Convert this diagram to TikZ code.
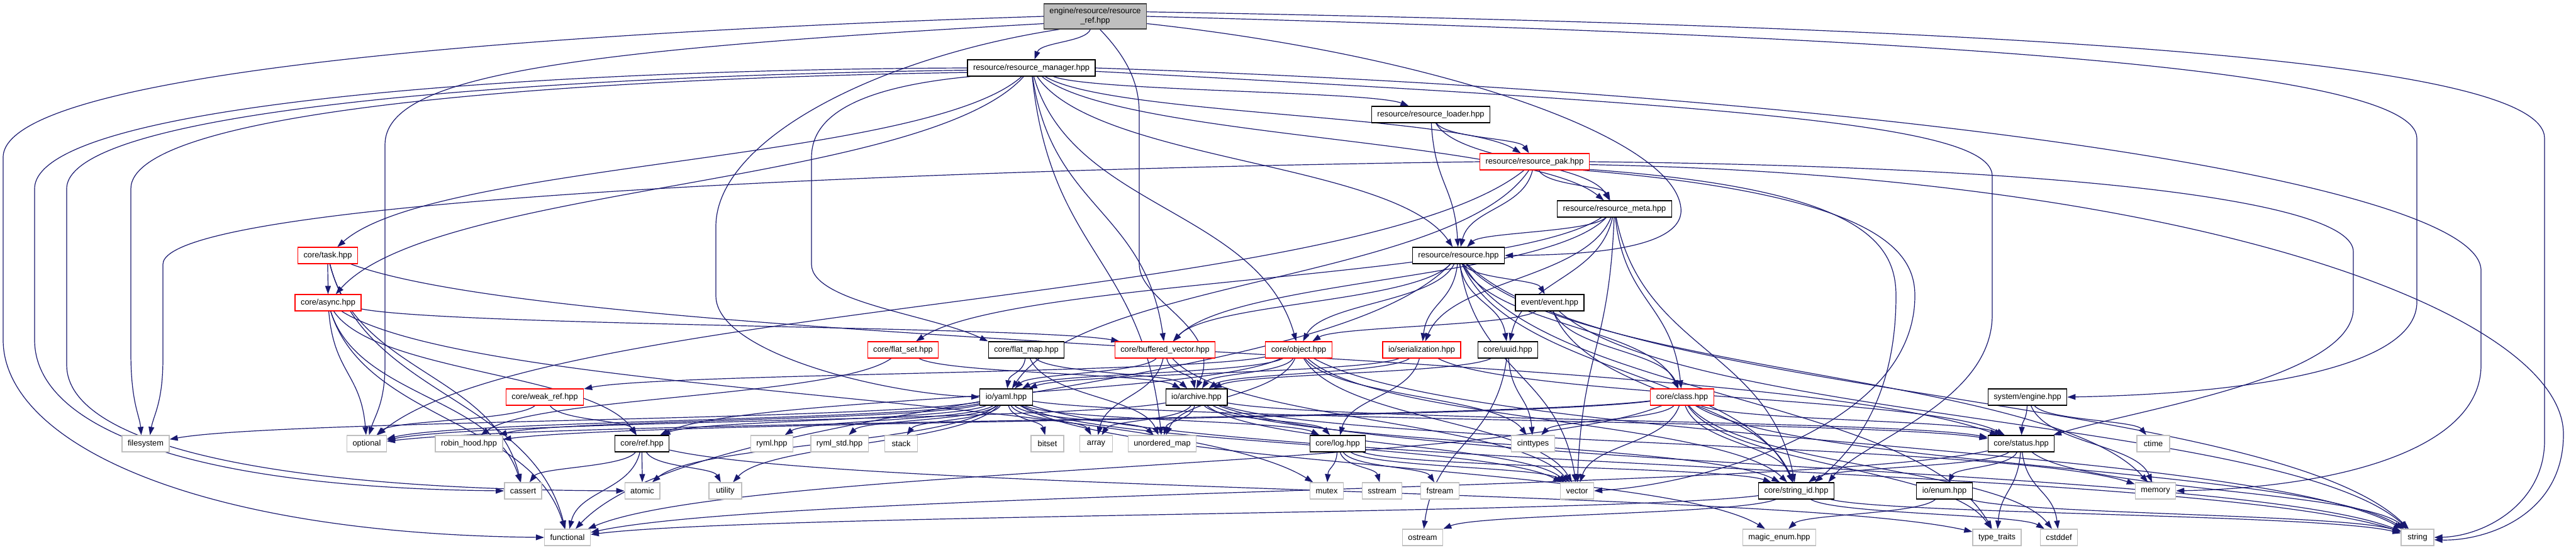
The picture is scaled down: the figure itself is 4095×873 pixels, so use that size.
\documentclass[tikz,border=0pt]{standalone}
\usepackage{fontspec}
\setmainfont{Liberation Sans}
\usetikzlibrary{arrows.meta,calc}
\pgfdeclarelayer{bg}\pgfdeclarelayer{edges}
\pgfsetlayers{bg,edges,main}
\definecolor{edgec}{HTML}{191970}
\definecolor{grayb}{HTML}{BFBFBF}
\definecolor{redb}{HTML}{FF0000}
\definecolor{topb}{HTML}{404040}
\tikzset{
 base/.style={rectangle, minimum height=26pt, minimum width=52pt, inner xsep=9pt, inner ysep=0pt,
   font=\fontsize{12.8}{15.3}\selectfont, line width=1.3pt, fill=white},
 nb/.style={base, draw=black},
 nr/.style={base, draw=redb},
 ng/.style={base, draw=grayb},
 ntop/.style={base, draw=topb, fill=grayb, align=center, minimum height=40pt},
 edge/.style={draw=edgec, line width=1.2pt, -{Triangle[length=13pt,width=9pt]}},
}
\newcommand\edg[2]{%
  \path ($(#1)!.15!(#2)$) coordinate (ea) ($(#1)!.5!(#2)$) coordinate (em) ($(#1)!.85!(#2)$) coordinate (eb);
  \draw[edge] (#1) .. controls (ea |- em) and (eb |- em) .. (#2);}
\newcommand\edgs[2]{\foreach \tg in {#2}{\edg{#1}{\tg}}}
\begin{document}
\begin{tikzpicture}[x=1pt,y=1pt]
\begin{pgfonlayer}{bg}
\fill[white] (0,0) rectangle (4095,-873);
\end{pgfonlayer}
\useasboundingbox (0,0) rectangle (4095,-873);
% nodes
\node[ntop] (ref) at (1741,-26) {engine/resource/resource\\\_ref.hpp};
\node[nb] (mgr) at (1639.5,-108) {resource/resource\_manager.hpp};
\node[nb] (loader) at (2274.5,-182) {resource/resource\_loader.hpp};
\node[nr] (pak) at (2439.5,-257) {resource/resource\_pak.hpp};
\node[nb] (meta) at (2566.5,-332) {resource/resource\_meta.hpp};
\node[nr] (task) at (521,-406) {core/task.hpp};
\node[nb] (res) at (2318.5,-406) {resource/resource.hpp};
\node[nr] (async) at (521.5,-481) {core/async.hpp};
\node[nb] (event) at (2463.5,-481) {event/event.hpp};
\node[nr] (fset) at (1435.5,-556) {core/flat\_set.hpp};
\node[nb] (fmap) at (1631.5,-556) {core/flat\_map.hpp};
\node[nr] (bvec) at (1852,-556) {core/buffered\_vector.hpp};
\node[nr] (obj) at (2064.5,-556) {core/object.hpp};
\node[nr] (ser) at (2260,-556) {io/serialization.hpp};
\node[nb] (uuid) at (2397,-556) {core/uuid.hpp};
\node[nr] (wref) at (866,-631) {core/weak\_ref.hpp};
\node[nb] (yaml) at (1599.5,-631) {io/yaml.hpp};
\node[nb] (arch) at (1902,-631) {io/archive.hpp};
\node[nr] (cls) at (2674,-631) {core/class.hpp};
\node[nb] (eng) at (3223,-631) {system/engine.hpp};
\node[ng] (fs) at (231.5,-705) {filesystem};
\node[ng] (opt) at (583,-705) {optional};
\node[ng] (robin) at (745.5,-705) {robin\_hood.hpp};
\node[nb] (cref) at (1020.5,-705) {core/ref.hpp};
\node[ng] (ryml) at (1227,-705) {ryml.hpp};
\node[ng] (rymlstd) at (1334.5,-705) {ryml\_std.hpp};
\node[ng] (stack) at (1432.5,-705) {stack};
\node[ng] (bitset) at (1665,-705) {bitset};
\node[ng] (array) at (1742.5,-705) {array};
\node[ng] (umap) at (1847.5,-705) {unordered\_map};
\node[nb] (log) at (2126.5,-705) {core/log.hpp};
\node[ng] (cint) at (2437,-705) {cinttypes};
\node[nb] (status) at (3213,-705) {core/status.hpp};
\node[ng] (ctime) at (3423,-705) {ctime};
\node[ng] (cassert) at (831.5,-780) {cassert};
\node[ng] (atomic) at (1021,-780) {atomic};
\node[ng] (utility) at (1153,-780) {utility};
\node[ng] (mutex) at (2109,-780) {mutex};
\node[ng] (sstream) at (2197,-780) {sstream};
\node[ng] (fstream) at (2289,-780) {fstream};
\node[ng] (vector) at (2507,-780) {vector};
\node[nb] (sid) at (2855.5,-780) {core/string\_id.hpp};
\node[nb] (ioenum) at (3091,-780) {io/enum.hpp};
\node[ng] (memory) at (3426.5,-780) {memory};
\node[ng] (functional) at (902,-854) {functional};
\node[ng] (ostream) at (2261.5,-854) {ostream};
\node[ng] (magic) at (2828.5,-854) {magic\_enum.hpp};
\node[ng] (ttraits) at (3174.5,-854) {type\_traits};
\node[ng] (cstddef) at (3273,-854) {cstddef};
\node[ng] (string) at (3843,-854) {string};
% via coordinates
\coordinate (L1a) at (5,-250); \coordinate (L1b) at (5,-540);
\coordinate (L2a) at (612,-230); \coordinate (L2b) at (612,-580);
\coordinate (L3a) at (1138,-360); \coordinate (L3b) at (1138,-470);
\coordinate (L4a) at (1811,-180); \coordinate (L4b) at (1811,-420);
\coordinate (R3a) at (2672,-330);
\coordinate (R1a) at (3842,-220); \coordinate (R1b) at (3842,-480);
\coordinate (R2a) at (4045,-220); \coordinate (R2b) at (4045,-700);
\coordinate (M1a) at (55,-300); \coordinate (M1b) at (55,-540);
\coordinate (M2a) at (106,-300); \coordinate (M2b) at (106,-580);
\coordinate (M3a) at (208,-300); \coordinate (M3b) at (208,-560);
\coordinate (P1a) at (259,-420); \coordinate (P1b) at (259,-570);
\coordinate (M4a) at (3944,-430); \coordinate (M4b) at (3944,-580);
\coordinate (M5a) at (3167,-280); \coordinate (M5b) at (3167,-500);
\coordinate (P2a) at (3741,-400); \coordinate (P2b) at (3741,-490);
\coordinate (P3a) at (4075,-690);
\coordinate (P4a) at (3014,-470);
\coordinate (P5a) at (3044,-470);
\coordinate (M6a) at (1290,-250); \coordinate (M6b) at (1290,-420);
\begin{pgfonlayer}{edges}
% routed edges
\draw[edge] (ref.west) .. controls (900,-50) and (5,-110) .. (L1a) -- (L1b) .. controls (5,-700) and (300,-848) .. (functional.west);
\draw[edge] (ref.188) .. controls (900,-80) and (612,-120) .. (L2a) -- (L2b) .. controls (612,-640) and (596,-660) .. (opt.75);
\draw[edge] (ref.200) .. controls (1400,-90) and (1138,-220) .. (L3a) -- (L3b) .. controls (1138,-560) and (1400,-625) .. (yaml.west);
\draw[edge] (ref.290) .. controls (1790,-90) and (1811,-130) .. (L4a) -- (L4b) .. controls (1811,-480) and (1945,-520) .. (arch.north);
\draw[edge] (ref.-8) .. controls (2300,-90) and (2660,-220) .. (R3a) .. controls (2680,-400) and (2500,-405) .. (res.east);
\draw[edge] (ref.east) .. controls (3100,-60) and (3842,-110) .. (R1a) -- (R1b) .. controls (3842,-580) and (3600,-625) .. (eng.east);
\draw[edge] (ref.5) .. controls (3300,-45) and (4045,-100) .. (R2a) -- (R2b) .. controls (4045,-800) and (3950,-852) .. (string.east);
\draw[edge] (mgr.west) .. controls (900,-110) and (55,-160) .. (M1a) -- (M1b) .. controls (55,-680) and (300,-775) .. (cassert.west);
\draw[edge] (mgr.182) .. controls (900,-120) and (106,-170) .. (M2a) -- (M2b) .. controls (106,-700) and (400,-778) .. (atomic.west);
\draw[edge] (mgr.184) .. controls (900,-125) and (208,-175) .. (M3a) -- (M3b) .. controls (208,-640) and (222,-660) .. (fs.117);
\draw[edge] (pak.west) .. controls (1400,-270) and (259,-320) .. (P1a) -- (P1b) .. controls (259,-640) and (244,-660) .. (fs.63);
\draw[edge] (mgr.east) .. controls (3000,-150) and (3944,-290) .. (M4a) -- (M4b) .. controls (3944,-720) and (3700,-775) .. (memory.east);
\draw[edge] (mgr.-3) .. controls (2800,-170) and (3167,-200) .. (M5a) -- (M5b) .. controls (3167,-640) and (2960,-700) .. (sid.15);
\draw[edge] (pak.east) .. controls (3300,-265) and (3741,-320) .. (P2a) -- (P2b) .. controls (3741,-600) and (3400,-650) .. (status.15);
\draw[edge] (pak.-3) .. controls (3500,-280) and (4075,-500) .. (P3a) .. controls (4075,-820) and (3950,-860) .. (string.-8);
\draw[edge] (pak.-8) .. controls (2950,-300) and (3014,-380) .. (P4a) .. controls (3014,-640) and (2940,-720) .. (sid.25);
\draw[edge] (pak.-10) .. controls (2990,-310) and (3044,-400) .. (P5a) .. controls (3044,-680) and (2700,-770) .. (vector.east);
\draw[edge] (mgr.188) .. controls (1350,-140) and (1290,-190) .. (M6a) -- (M6b) .. controls (1290,-480) and (1480,-500) .. (fmap.north west);
% direct edges
\edgs{ref}{mgr}
\edgs{mgr}{loader,pak,meta,res,task,async,bvec,obj,umap}
\edgs{loader}{pak,meta,res}
\edgs{pak}{meta,res,opt,yaml}
\edgs{meta}{res,ser,uuid,cls,vector,sid,fset,bvec}
\edgs{res}{event,obj,ser,uuid,cls,bvec,functional,vector,sid,ttraits,string,memory}
\edgs{task}{async,functional,cassert,status}
\edgs{async}{bvec,cref,opt,functional,cassert,mutex}
\edgs{event}{obj,cls,sid,string}
\edgs{fset}{robin,arch}
\edgs{fmap}{yaml,arch,umap}
\edgs{bvec}{yaml,arch,vector,array}
\edgs{obj}{wref,yaml,arch,umap,vector,sid,cref,string,cint}
\edgs{ser}{yaml,arch,log,status}
\edgs{uuid}{cint,ostream,arch}
\edgs{wref}{cref,opt}
\edgs{yaml}{fs,opt,robin,cref,utility,ryml,rymlstd,stack,bitset,array,umap,vector,log,status,string,atomic,magic}
\edgs{arch}{opt,array,umap,vector,log,status,sid,string,memory}
\edgs{cls}{cint,vector,sid,status,string,ttraits,robin,opt,functional,cstddef}
\edgs{eng}{status,ctime,memory}
\edgs{cref}{cassert,atomic,utility,functional,ttraits}
\edgs{log}{mutex,sstream,fstream,vector,sid}
\edgs{status}{sid,ioenum,ttraits,cstddef,string,functional}
\edgs{ioenum}{magic,string}
\edgs{sid}{functional,ostream,string,cstddef}
\end{pgfonlayer}
\end{tikzpicture}
\end{document}
